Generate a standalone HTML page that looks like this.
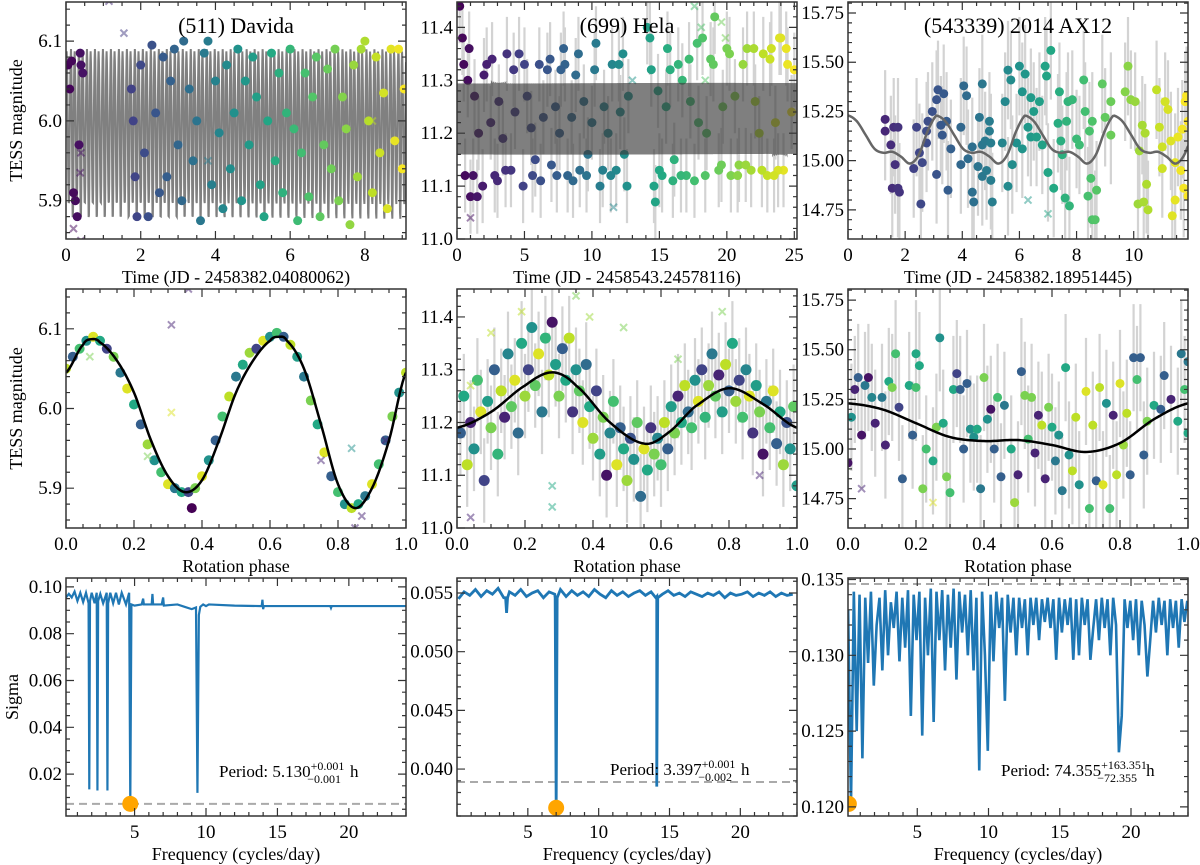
<!DOCTYPE html>
<html><head><meta charset="utf-8"><style>
body{margin:0;background:#fff}
svg{display:block;font-family:"Liberation Serif",serif}
</style></head><body>
<svg id="fig" width="1200" height="865" viewBox="0 0 1200 865" xmlns="http://www.w3.org/2000/svg"></svg>
<script>
// ---------- DATA ----------
const davidaTime=[0.05,0.1,0.15,0.2,0.25,0.3,0.35,0.38,0.4,0.45,1.75,1.8,1.85,1.9,2.0,2.1,2.2,2.3,2.4,2.5,2.6,2.7,2.8,2.9,3.0,3.1,3.15,3.3,3.4,3.5,3.6,3.7,3.8,3.9,4.0,4.1,4.2,4.3,4.4,4.5,4.6,4.7,4.8,4.9,5.0,5.1,5.2,5.3,5.4,5.5,5.6,5.7,5.8,5.9,6.0,6.1,6.2,6.3,6.4,6.5,6.6,6.7,6.8,6.9,7.0,7.1,7.2,7.3,7.4,7.5,7.6,7.7,7.8,7.9,8.0,8.1,8.2,8.3,8.4,8.5,8.6,8.7,8.8,8.9,9.0,9.05];
const davidaMag=[6.07,6.04,6.075,5.91,5.90,5.88,5.97,6.085,6.07,6.06,6.04,6.0,5.93,5.88,6.07,5.96,5.88,6.095,6.01,5.91,6.08,5.93,6.05,6.09,5.97,5.90,6.1,6.04,5.95,6.0,5.875,6.085,6.1,5.92,6.05,5.985,5.89,6.07,5.94,6.01,6.09,5.90,6.05,5.97,6.08,6.03,5.92,5.88,6.0,6.085,5.95,6.06,5.91,6.01,6.09,5.99,5.875,5.96,6.06,5.905,6.03,6.08,5.88,5.97,6.065,5.94,6.09,5.90,6.03,5.99,5.87,6.07,5.93,6.09,6.1,6.0,5.91,6.08,5.96,6.035,5.89,6.09,5.975,6.09,5.94,6.04];
const davidaOutT=[0.2,0.4,0.4,0.38,1.15,1.55,3.8,8.2];
const davidaOutM=[5.865,5.85,5.96,5.935,6.15,6.11,5.95,6.0];
const davidaFitPhase=[0,0.05,0.075,0.1,0.15,0.2,0.25,0.3,0.35,0.4,0.45,0.5,0.55,0.6,0.625,0.65,0.7,0.75,0.8,0.85,0.9,0.95,1.0];
const davidaFitMag=[6.045,6.08,6.087,6.083,6.06,6.02,5.96,5.915,5.895,5.91,5.96,6.02,6.06,6.085,6.09,6.085,6.05,5.98,5.905,5.875,5.9,5.96,6.045];
const davidaPeriodH=5.130;
const davidaPh=[0,0.02,0.04,0.06,0.08,0.1,0.12,0.14,0.16,0.18,0.2,0.22,0.24,0.26,0.28,0.3,0.32,0.34,0.36,0.37,0.38,0.4,0.42,0.44,0.46,0.48,0.5,0.52,0.54,0.56,0.58,0.6,0.62,0.64,0.66,0.68,0.7,0.72,0.74,0.76,0.78,0.8,0.82,0.84,0.86,0.88,0.9,0.92,0.94,0.96,0.98,1.0];
const davidaPhMag=[6.05,6.065,6.075,6.085,6.09,6.085,6.075,6.065,6.045,6.025,6.005,5.98,5.955,5.935,5.92,5.905,5.9,5.895,5.895,5.875,5.9,5.915,5.935,5.96,5.99,6.015,6.04,6.055,6.07,6.075,6.085,6.09,6.095,6.09,6.08,6.065,6.04,6.01,5.98,5.945,5.915,5.895,5.88,5.875,5.88,5.89,5.905,5.93,5.96,5.99,6.02,6.045];
const davidaPhCol=[.9,.3,.7,.5,.95,.6,.2,.8,.4,.95,.6,.3,.85,.5,.7,.95,.4,.6,.2,0,.8,.95,.5,.3,.7,.9,.4,.6,.85,.2,.95,.5,.7,.3,.9,.55,.4,.8,.6,.95,.3,.7,.5,.9,.6,.4,.95,.7,.3,.8,.5,.9];
const davidaPhOutP=[0.31,0.36,0.31,0.07,0.24,0.84,0.75,0.87,0.85,0.94];
const davidaPhOutM=[6.105,6.15,5.995,6.065,5.94,5.95,5.935,5.865,5.85,5.96];
const davidaPhOutC=[.1,.1,.95,.8,.8,.5,.1,.1,.1,.1];

const helaTime=[0.2,0.4,0.6,0.8,1.0,1.3,1.6,1.9,2.2,2.5,2.8,3.1,3.4,3.7,4.0,4.3,4.6,4.9,5.2,5.5,5.8,6.1,6.4,6.7,7.0,7.3,7.6,7.9,8.2,8.5,8.8,9.1,9.4,9.7,10.0,10.3,10.6,10.9,11.2,11.5,11.8,12.1,12.4,12.7,14.3,14.6,14.9,15.2,15.5,15.8,16.1,16.4,16.7,17.0,17.3,17.6,17.9,18.2,18.5,18.8,19.1,19.4,19.7,20.0,20.3,20.6,20.9,21.2,21.5,21.8,22.1,22.4,22.7,23.0,23.3,23.6,23.9,24.2,24.5,24.8,
0.5,0.9,1.2,1.5,2.0,2.6,3.0,3.6,4.2,5.0,5.6,6.2,6.9,7.4,8.0,8.6,9.0,9.6,10.2,10.8,11.4,12.0,12.6,14.1,14.4,14.7,15.0,15.6,16.0,16.6,17.2,17.8,18.4,19.0,19.6,20.2,20.8,21.4,22.0,22.6,23.2,23.8,24.4,25.0,24.0,23.5,12.3,7.7];
const helaMag=[11.44,11.38,11.12,11.3,11.08,11.27,11.2,11.1,11.33,11.22,11.12,11.26,11.19,11.35,11.13,11.24,11.35,11.1,11.27,11.21,11.15,11.33,11.23,11.32,11.14,11.25,11.2,11.36,11.12,11.23,11.31,11.13,11.26,11.16,11.22,11.37,11.1,11.25,11.2,11.33,11.13,11.24,11.16,11.27,11.38,11.1,11.28,11.12,11.25,11.32,11.15,11.33,11.3,11.12,11.26,11.11,11.22,11.38,11.2,11.34,11.42,11.13,11.25,11.36,11.12,11.27,11.14,11.33,11.36,11.13,11.26,11.2,11.35,11.12,11.36,11.22,11.38,11.13,11.33,11.24,
11.33,11.36,11.12,11.08,11.31,11.34,11.11,11.13,11.32,11.33,11.12,11.11,11.34,11.12,11.33,11.11,11.35,11.12,11.32,11.13,11.12,11.33,11.1,11.4,11.32,11.07,11.13,11.36,11.11,11.12,11.34,11.37,11.12,11.33,11.14,11.35,11.12,11.14,11.36,11.13,11.34,11.13,11.36,11.32,11.38,11.12,11.35,11.32];
const helaOutT=[1.0,11.6,17.6,18.1,18.4,19.6,19.9,13.0];
const helaOutM=[11.04,11.06,11.44,11.4,11.3,11.41,11.38,11.3];
const helaFitPhase=[0,0.1,0.2,0.28,0.35,0.45,0.55,0.62,0.7,0.8,0.9,1.0];
const helaFitMag=[11.19,11.22,11.27,11.295,11.27,11.2,11.16,11.18,11.23,11.265,11.235,11.19];
const helaPeriodH=3.397;
const helaPh=[0.01,0.02,0.03,0.04,0.05,0.06,0.07,0.08,0.09,0.1,0.11,0.12,0.13,0.14,0.15,0.16,0.17,0.18,0.19,0.2,0.21,0.22,0.23,0.24,0.25,0.26,0.27,0.28,0.29,0.3,0.31,0.32,0.33,0.34,0.35,0.36,0.37,0.38,0.39,0.4,0.41,0.42,0.43,0.44,0.45,0.46,0.47,0.48,0.49,0.5,0.51,0.52,0.53,0.54,0.55,0.56,0.57,0.58,0.59,0.6,0.61,0.62,0.63,0.64,0.65,0.66,0.67,0.68,0.69,0.7,0.71,0.72,0.73,0.74,0.75,0.76,0.77,0.78,0.79,0.8,0.81,0.82,0.83,0.84,0.85,0.86,0.87,0.88,0.89,0.9,0.91,0.92,0.93,0.94,0.95,0.96,0.97,0.98,0.99,1.0];
const helaPhMag=[11.18,11.25,11.12,11.2,11.15,11.28,11.22,11.09,11.24,11.19,11.3,11.14,11.26,11.21,11.33,11.23,11.28,11.18,11.35,11.25,11.3,11.38,11.27,11.33,11.22,11.36,11.29,11.39,11.31,11.25,11.34,11.28,11.36,11.22,11.3,11.26,11.2,11.31,11.23,11.17,11.26,11.14,11.21,11.1,11.18,11.24,11.12,11.19,11.15,11.09,11.17,11.13,11.2,11.06,11.15,11.11,11.19,11.14,11.17,11.12,11.2,11.15,11.23,11.18,11.25,11.2,11.27,11.22,11.19,11.28,11.24,11.3,11.21,11.27,11.33,11.25,11.29,11.22,11.31,11.26,11.35,11.24,11.28,11.21,11.3,11.25,11.18,11.27,11.22,11.14,11.24,11.19,11.26,11.16,11.22,11.12,11.2,11.15,11.23,11.08];
const helaPhCol=[.3,.6,.9,.1,.5,.7,.95,.2,.55,.8,.3,.65,.9,.1,.45,.75,.95,.35,.6,.85,.2,.5,.75,.95,.4,.65,.9,.05,.55,.8,.3,.6,.9,.15,.5,.75,.95,.35,.6,.85,.2,.55,.8,.05,.45,.7,.95,.3,.6,.85,.25,.5,.75,.35,.95,.6,.15,.8,.45,.7,.9,.3,.55,.8,.1,.6,.9,.35,.7,.5,.95,.2,.65,.85,.4,.75,.1,.55,.9,.3,.6,.85,.2,.7,.45,.95,.15,.55,.8,.05,.4,.7,.95,.3,.6,.85,.25,.5,.75,.55];
const helaPhOutP=[0.04,0.1,0.19,0.35,0.39,0.49,0.65,0.78,0.28,0.28,0.04,0.89];
const helaPhOutM=[11.27,11.37,11.41,11.44,11.4,11.38,11.32,11.41,11.08,11.04,11.02,11.1];
const helaPhOutC=[.9,.9,.9,.8,.85,.8,.8,.8,.6,.6,.1,.1];

const axTime=[1.3,1.3,1.5,1.55,1.6,1.65,1.75,1.8,1.75,2.3,2.4,2.5,2.55,2.6,2.75,2.75,2.8,2.95,3.1,3.1,3.15,3.25,3.3,3.35,3.45,3.5,3.6,3.95,3.95,4.05,4.15,4.2,4.35,4.35,4.4,4.55,4.6,4.7,4.7,4.7,4.8,4.85,4.95,4.95,5.0,5.0,5.05,5.4,5.5,5.6,5.6,5.7,5.75,5.9,6.0,6.1,6.1,6.2,6.3,6.4,6.4,6.5,6.6,6.7,6.8,6.9,6.95,7.0,7.1,7.2,7.35,7.4,7.45,7.5,7.6,7.65,7.7,7.75,7.85,8.0,8.1,8.25,8.3,8.4,8.45,8.5,8.55,8.55,8.65,8.7,8.9,9.0,9.2,9.2,9.7,9.8,9.9,10.05,10.15,10.2,10.3,10.35,10.4,10.45,10.5,10.8,10.9,11.0,11.0,11.1,11.2,11.3,11.35,11.45,11.45,11.55,11.65,11.7,11.75,11.8,11.85,11.9,11.9];
const axMag=[15.21,15.15,15.08,14.86,15.17,14.98,14.86,14.84,15.17,14.96,15.17,15.04,14.78,14.99,15.09,15.15,15.2,15.25,14.93,15.31,15.36,15.18,15.13,15.34,15.2,14.85,15.06,14.98,15.17,15.38,15.33,15.01,15.07,14.84,14.79,14.97,15.22,15.08,15.39,14.92,15.1,14.95,15.2,15.15,15.09,14.9,14.79,15.09,15.3,14.87,15.46,15.41,14.98,15.09,15.48,15.06,15.35,15.44,15.17,15.32,15.12,15.25,15.12,15.3,15.08,15.48,15.43,14.94,15.56,14.86,15.19,15.35,15.1,15.03,14.81,15.2,15.3,14.77,15.31,15.11,15.08,15.41,15.25,14.82,15.15,14.91,15.2,14.7,14.7,14.85,15.39,15.22,15.3,15.13,15.35,15.48,15.31,15.3,14.78,15.05,15.18,14.79,15.14,14.88,14.75,15.36,15.17,15.07,14.96,15.3,15.26,15.1,14.72,14.99,14.8,15.12,14.95,15.16,14.86,15.3,15.33,15.2,14.82];
const axOutT=[6.3,7.0];
const axOutM=[14.8,14.73];
const axFitPhase=[0,0.1,0.2,0.3,0.4,0.5,0.6,0.7,0.8,0.9,1.0];
const axFitMag=[15.23,15.2,15.13,15.06,15.04,15.045,15.02,14.985,15.03,15.15,15.23];
const axPeriodH=74.355;
const axPh=[0.0,0.01,0.02,0.03,0.04,0.05,0.06,0.07,0.08,0.1,0.11,0.12,0.13,0.14,0.15,0.16,0.18,0.19,0.2,0.2,0.21,0.22,0.23,0.25,0.26,0.27,0.28,0.29,0.3,0.31,0.32,0.33,0.34,0.35,0.36,0.37,0.38,0.39,0.4,0.41,0.42,0.43,0.44,0.45,0.46,0.48,0.49,0.5,0.51,0.52,0.53,0.54,0.55,0.56,0.57,0.58,0.59,0.6,0.61,0.62,0.63,0.64,0.65,0.66,0.67,0.68,0.7,0.71,0.72,0.73,0.74,0.75,0.76,0.77,0.78,0.79,0.8,0.81,0.82,0.83,0.84,0.85,0.86,0.87,0.88,0.9,0.92,0.93,0.95,0.97,0.98,0.99,1.0,1.0];
const axPhMag=[14.93,15.16,15.3,15.36,15.07,15.32,15.36,15.26,15.13,15.26,15.02,15.34,15.31,15.48,15.21,14.85,15.32,15.07,15.31,15.48,15.42,14.8,15.0,14.94,15.11,15.56,15.13,14.86,14.78,15.3,15.38,15.3,15.0,15.33,15.1,15.06,15.1,14.8,15.36,15.15,15.2,15.0,15.26,14.86,15.22,15.0,14.73,14.87,15.39,15.27,15.05,15.26,14.98,15.17,15.12,14.85,15.21,15.11,14.94,15.07,14.79,15.41,14.97,14.89,15.16,14.82,15.29,14.7,15.12,14.84,15.31,14.82,15.23,14.7,15.17,14.87,15.33,15.02,15.18,14.87,15.46,15.35,15.46,14.97,15.14,15.22,15.2,15.37,15.25,15.14,15.48,15.3,15.44,15.08];
const axPhCol=[.05,.5,.1,.3,.05,.4,.05,.45,.1,.4,.1,.6,.8,.7,.2,.3,.6,.3,.7,.6,.6,.8,.7,.6,.8,.5,.6,.8,.7,.6,.2,.3,.3,.3,.5,.5,.6,.4,.8,.5,.05,.3,.7,.3,.4,.6,.85,.1,.3,.8,.7,.8,.1,.1,.9,.1,.8,.6,.4,.5,.4,.6,.5,.9,.9,.5,.95,.7,.9,.3,.9,.95,.5,.7,.1,.9,.95,.85,.9,.3,.3,.7,.3,.3,.8,.6,.3,.3,.1,.6,.4,.7,.4,.6];
const axPhOutP=[0.04,0.25];
const axPhOutM=[14.8,14.73];
const axPhOutC=[.1,.95];

const davidaFreq=[0.2,0.4,0.6,0.8,1.0,1.2,1.4,1.6,1.78,1.83,1.88,2.0,2.2,2.35,2.4,2.45,2.6,2.8,3.05,3.1,3.15,3.3,3.5,3.7,3.9,4.1,4.4,4.62,4.7,4.78,5.0,5.5,5.6,5.65,6.2,6.25,6.3,6.9,7.0,7.05,8.0,8.5,9.0,9.3,9.4,9.5,9.6,9.8,10.0,10.2,12.0,13.9,13.95,14.0,14.05,18.7,18.75,18.8,24.0];
const davidaSigma=[0.0955,0.097,0.0955,0.098,0.094,0.0975,0.0935,0.0975,0.093,0.0135,0.094,0.0975,0.093,0.0975,0.013,0.094,0.097,0.093,0.0975,0.013,0.093,0.0975,0.093,0.0975,0.0925,0.0975,0.0925,0.0975,0.0073,0.0925,0.092,0.0925,0.095,0.0925,0.0925,0.097,0.0925,0.0925,0.0955,0.092,0.0925,0.0915,0.0905,0.0912,0.012,0.088,0.0915,0.0925,0.0918,0.0925,0.092,0.0918,0.0945,0.0905,0.0918,0.0918,0.091,0.0918,0.0918];
const davidaBest=[4.7,0.0073];
const davidaThresh=0.0073;

const helaFreqStart=0.1, helaFreqStep=0.4;
const helaSigmaBase=[.0545,.0551,.0548,.0553,.0547,.0552,.0549,.0554,.0546,.0551,.0548,.0553,.0547,.0550,.0552,.0546,.0551,.0549,.0553,.0547,.0552,.0548,.0551,.0547,.0553,.0549,.0546,.0552,.0548,.0551,.0547,.0550,.0552,.0548,.0551,.0547,.0549,.0552,.0548,.0550,.0547,.0551,.0549,.0547,.0550,.0548,.0551,.0546,.0550,.0548,.0549,.0551,.0547,.0550,.0548,.0551,.0547,.0550,.0548,.0549];
const helaDipFreq=[3.5,7.0,14.1];
const helaDipSigma=[0.0533,0.0367,0.0385];
const helaBest=[7.0,0.0367];
const helaThresh=0.0389;

const axFreqStart=0.15, axFreqStep=0.2;
const axSigma=[0.1330,0.1202,0.1342,0.1250,0.1340,0.1232,0.1338,0.1295,0.1342,0.1280,
0.1320,0.1338,0.1290,0.1343,0.1300,0.1335,0.1318,0.1342,0.1296,0.1338,
0.1305,0.1343,0.1260,0.1340,0.1310,0.1342,0.1247,0.1338,0.1300,0.1344,
0.1256,0.1342,0.1310,0.1343,0.1290,0.1340,0.1305,0.1344,0.1284,0.1342,
0.1315,0.1340,0.1300,0.1343,0.1290,0.1338,0.1224,0.1342,0.1300,0.1237,
0.1340,0.1296,0.1342,0.1318,0.1338,0.1270,0.1340,0.1315,0.1338,0.1300,
0.1338,0.1318,0.1337,0.1300,0.1338,0.1320,0.1338,0.1310,0.1337,0.1322,
0.1338,0.1318,0.1337,0.1297,0.1338,0.1315,0.1337,0.1320,0.1338,0.1297,
0.1337,0.1300,0.1338,0.1320,0.1337,0.1297,0.1318,0.1337,0.1310,0.1338,
0.1318,0.1337,0.1300,0.1338,0.1320,0.1236,0.1260,0.1337,0.1318,0.1336,
0.1310,0.1337,0.1300,0.1336,0.1320,0.1286,0.1310,0.1336,0.1315,0.1338,
0.1320,0.1336,0.1300,0.1337,0.1318,0.1336,0.1305,0.1337,0.1322,0.1336];
const axBest=[0.2,0.1202];
const axThresh=0.1347;

// ---------- RENDER ----------
const NS='http://www.w3.org/2000/svg';
const svg=document.getElementById('fig');
function el(tag,attrs,parent){const e=document.createElementNS(NS,tag);for(const k in attrs)e.setAttribute(k,attrs[k]);(parent||svg).appendChild(e);return e;}
const VIR=['#440154','#482475','#414487','#355f8d','#2a788e','#21918c','#22a884','#44bf70','#7ad151','#bddf26','#fde725'];
function vir(f){f=Math.max(0,Math.min(1,f));const i=Math.min(9,Math.floor(f*10)),t=f*10-i;
 const a=VIR[i],b=VIR[i+1];const c=k=>Math.round(parseInt(a.substr(k,2),16)*(1-t)+parseInt(b.substr(k,2),16)*t);
 return 'rgb('+c(1)+','+c(3)+','+c(5)+')';}
function interp(xs,ys,x){
 let i=0;while(i<xs.length-2&&x>xs[i+1])i++;
 const x0=xs[i],x1=xs[i+1],t=(x-x0)/(x1-x0);
 const p0=ys[Math.max(0,i-1)],p1=ys[i],p2=ys[i+1],p3=ys[Math.min(ys.length-1,i+2)];
 return 0.5*((2*p1)+(-p0+p2)*t+(2*p0-5*p1+4*p2-p3)*t*t+(-p0+3*p1-3*p2+p3)*t*t*t);}
let clipN=0;
function panel(name,x0,x1,y0,y1,xd,yd){
 const g=el('g',{});
 const id='c'+(clipN++);const cp=el('clipPath',{id:id},g);el('rect',{x:x0,y:y0,width:x1-x0,height:y1-y0},cp);
 const d=el('g',{'clip-path':'url(#'+id+')'},g);
 return {g,d,x0,x1,y0,y1,sx:v=>x0+(v-xd[0])/(xd[1]-xd[0])*(x1-x0),sy:v=>y1-(v-yd[0])/(yd[1]-yd[0])*(y1-y0),xd,yd};}
function axes(P,xMaj,xLab,xMinStep,yMaj,yLab,yMinStep,xTitle,yTitle){
 const g=el('g',{},P.g);
 let p='';
 const xs=Math.ceil(P.xd[0]/xMinStep-1e-6);
 for(let k=xs;k*xMinStep<=P.xd[1]+1e-9;k++){const x=P.sx(k*xMinStep);p+=`M${x},${P.y1}v-4M${x},${P.y0}v4`;}
 const ys=Math.ceil(P.yd[0]/yMinStep-1e-6);
 for(let k=ys;k*yMinStep<=P.yd[1]+1e-9;k++){const y=P.sy(k*yMinStep);p+=`M${P.x0},${y}h4M${P.x1},${y}h-4`;}
 xMaj.forEach(v=>{const x=P.sx(v);p+=`M${x},${P.y1}v-8M${x},${P.y0}v8`;});
 yMaj.forEach(v=>{const y=P.sy(v);p+=`M${P.x0},${y}h8M${P.x1},${y}h-8`;});
 el('path',{d:p,stroke:'#333',fill:'none','stroke-width':1.2},g);
 el('rect',{x:P.x0,y:P.y0,width:P.x1-P.x0,height:P.y1-P.y0,fill:'none',stroke:'#333','stroke-width':1.5},g);
 xMaj.forEach((v,i)=>{const t=el('text',{x:P.sx(v),y:P.y1+22,'text-anchor':'middle','font-size':19},g);t.textContent=xLab[i];
  });
 yMaj.forEach((v,i)=>{const t=el('text',{x:P.x0-4,y:P.sy(v)+6,'text-anchor':'end','font-size':19},g);t.textContent=yLab[i];
  });
 if(xTitle){const t=el('text',{x:(P.x0+P.x1)/2,y:P.y1+44,'text-anchor':'middle','font-size':18},g);t.textContent=xTitle;
  }
 if(yTitle){const cy=(P.y0+P.y1)/2,cx=yTitle==='Sigma'?18:22;const t=el('text',{x:cx,y:cy,'text-anchor':'middle','font-size':18,transform:`rotate(-90 ${cx} ${cy})`},g);t.textContent=yTitle;
  }}
function dot(P,x,y,c,r){const e=el('circle',{cx:P.sx(x),cy:P.sy(y),r:r||4.5,fill:c},P.d);
 }
function cross(P,x,y,c){const X=P.sx(x),Y=P.sy(y),s=3.5;const e=el('path',{d:`M${X-s},${Y-s}L${X+s},${Y+s}M${X-s},${Y+s}L${X+s},${Y-s}`,stroke:c,'stroke-width':2,opacity:0.5},P.d);
 }
function errbars(P,xs,ys,err){let p='';xs.forEach((x,i)=>{p+=`M${P.sx(x)},${P.sy(ys[i]-err)}V${P.sy(ys[i]+err)}`;});
 const e=el('path',{d:p,stroke:'#d3d3d3','stroke-width':2.2,fill:'none'},P.d);}
function line(P,pts,attrs,name){const e=el('path',Object.assign({d:'M'+pts.map(q=>P.sx(q[0]).toFixed(2)+','+P.sy(q[1]).toFixed(2)).join('L'),fill:'none'},attrs),P.d);
 }
function title(P,txt){const t=el('text',{x:(P.x0+P.x1)/2,y:P.y0+31,'text-anchor':'middle','font-size':22},P.g);t.textContent=txt;
 }
function periodText(P,x,y,val,up,dn){const t=el('text',{x:x,y:y,'font-size':17},P.g);
 
 const a=el('tspan',{},t);a.textContent='Period: '+val;
 const b=el('tspan',{dy:-7,'font-size':12},t);b.textContent=up;
 const w=up.length*6.2;
 const c=el('tspan',{dx:-w,dy:13,'font-size':12},t);c.textContent=dn;
 const d=el('tspan',{dy:-6,dx:9},t);d.textContent='h';}
function timeCurve(ph,mg,perH,tmax,per){const P_d=perH/24;const pts=[];const n=Math.ceil(tmax/P_d*per);
 for(let i=0;i<=n;i++){const t=i*tmax/n;let f=(t/P_d)%1;pts.push([t,interp(ph,mg,f)]);}return pts;}
function phaseCurve(ph,mg){const pts=[];for(let i=0;i<=200;i++){const f=i/200;pts.push([f,interp(ph,mg,f)]);}return pts;}

const C=[[66,406],[457,797],[848,1188]];
const R=[[2,239],[289,528],[578,816]];
const phTicks=[0,0.2,0.4,0.6,0.8,1.0],phLab=['0.0','0.2','0.4','0.6','0.8','1.0'];

// Row 1
let P=panel('davida-lightcurve',C[0][0],C[0][1],R[0][0],R[0][1],[0,9.1],[5.852,6.149]);
line(P,timeCurve(davidaFitPhase,davidaFitMag,davidaPeriodH,9.1,24),{stroke:'#808080','stroke-width':2},'model-curve');
davidaTime.forEach((t,i)=>dot(P,t,davidaMag[i],vir(t/9.1)));
davidaOutT.forEach((t,i)=>cross(P,t,davidaOutM[i],vir(t/9.1)));
axes(P,[0,2,4,6,8],['0','2','4','6','8'],0.5,[5.9,6.0,6.1],['5.9','6.0','6.1'],0.02,'Time (JD - 2458382.04080062)','TESS magnitude');
title(P,'(511) Davida');

P=panel('hela-lightcurve',C[1][0],C[1][1],R[0][0],R[0][1],[0,25.2],[11.0,11.448]);
errbars(P,helaTime,helaMag,0.07);
helaTime.forEach((t,i)=>dot(P,t,helaMag[i],vir(t/25.2)));
helaOutT.forEach((t,i)=>cross(P,t,helaOutM[i],vir(t/25.2)));
line(P,timeCurve(helaFitPhase,helaFitMag,helaPeriodH,25.2,30),{stroke:'#3a3a3a','stroke-width':2,opacity:0.65},'model-curve');
axes(P,[0,5,10,15,20,25],['0','5','10','15','20','25'],1,[11.0,11.1,11.2,11.3,11.4],['11.0','11.1','11.2','11.3','11.4'],0.02,'Time (JD - 2458543.24578116)',null);
title(P,'(699) Hela');

P=panel('ax12-lightcurve',C[2][0],C[2][1],R[0][0],R[0][1],[0,11.9],[14.602,15.806]);
errbars(P,axTime,axMag,0.25);
axTime.forEach((t,i)=>dot(P,t,axMag[i],vir(t/11.9)));
axOutT.forEach((t,i)=>cross(P,t,axOutM[i],vir(t/11.9)));
line(P,timeCurve(axFitPhase,axFitMag,axPeriodH,11.9,60),{stroke:'#666','stroke-width':2.5},'model-curve');
axes(P,[0,2,4,6,8,10],['0','2','4','6','8','10'],0.5,[14.75,15.0,15.25,15.5,15.75],['14.75','15.00','15.25','15.50','15.75'],0.05,'Time (JD - 2458382.18951445)',null);
title(P,'(543339) 2014 AX12');

// Row 2
P=panel('davida-phase',C[0][0],C[0][1],R[1][0],R[1][1],[0,1],[5.85,6.15]);
davidaPh.forEach((p,i)=>dot(P,p,davidaPhMag[i],vir(davidaPhCol[i]),5));
davidaPhOutP.forEach((p,i)=>cross(P,p,davidaPhOutM[i],vir(davidaPhOutC[i])));
line(P,phaseCurve(davidaFitPhase,davidaFitMag),{stroke:'#000','stroke-width':2.5},'fit-curve');
axes(P,phTicks,phLab,0.05,[5.9,6.0,6.1],['5.9','6.0','6.1'],0.02,'Rotation phase','TESS magnitude');

P=panel('hela-phase',C[1][0],C[1][1],R[1][0],R[1][1],[0,1],[11.0,11.453]);
errbars(P,helaPh,helaPhMag,0.08);
helaPh.forEach((p,i)=>dot(P,p,helaPhMag[i],vir(helaPhCol[i]),5.5));
helaPhOutP.forEach((p,i)=>cross(P,p,helaPhOutM[i],vir(helaPhOutC[i])));
line(P,phaseCurve(helaFitPhase,helaFitMag),{stroke:'#000','stroke-width':2.5},'fit-curve');
axes(P,phTicks,phLab,0.05,[11.0,11.1,11.2,11.3,11.4],['11.0','11.1','11.2','11.3','11.4'],0.02,'Rotation phase',null);

P=panel('ax12-phase',C[2][0],C[2][1],R[1][0],R[1][1],[0,1],[14.602,15.806]);
errbars(P,axPh,axPhMag,0.27);
axPh.forEach((p,i)=>dot(P,p,axPhMag[i],vir(axPhCol[i])));
axPhOutP.forEach((p,i)=>cross(P,p,axPhOutM[i],vir(axPhOutC[i])));
line(P,phaseCurve(axFitPhase,axFitMag),{stroke:'#000','stroke-width':2.5},'fit-curve');
axes(P,phTicks,phLab,0.05,[14.75,15.0,15.25,15.5,15.75],['14.75','15.00','15.25','15.50','15.75'],0.05,'Rotation phase',null);

// Row 3
function thresh(P,v){line(P,[[P.xd[0],v],[P.xd[1],v]],{stroke:'#aaa','stroke-width':2,'stroke-dasharray':'8,5'},'threshold-line');}
function best(P,b){const e=el('circle',{cx:P.sx(b[0]),cy:P.sy(b[1]),r:8,fill:'orange'},P.d);}
P=panel('davida-periodogram',C[0][0],C[0][1],R[2][0],R[2][1],[0.2,24],[0.0021,0.1038]);
thresh(P,davidaThresh);
line(P,davidaFreq.map((f,i)=>[f,davidaSigma[i]]),{stroke:'#1f77b4','stroke-width':2.2},'periodogram-line');
best(P,davidaBest);
axes(P,[5,10,15,20],['5','10','15','20'],1,[0.02,0.04,0.06,0.08,0.10],['0.02','0.04','0.06','0.08','0.10'],0.005,'Frequency (cycles/day)','Sigma');
periodText(P,219,777,'5.130','+0.001','−0.001');

P=panel('hela-periodogram',C[1][0],C[1][1],R[2][0],R[2][1],[0,24],[0.0360,0.05628]);
thresh(P,helaThresh);
(function(){let pts=helaSigmaBase.map((s,i)=>[helaFreqStart+i*helaFreqStep,s]);
 helaDipFreq.forEach((f,i)=>{pts.push([f-0.07,0.0546],[f,helaDipSigma[i]],[f+0.07,0.0546]);});
 pts.sort((a,b)=>a[0]-b[0]);line(P,pts,{stroke:'#1f77b4','stroke-width':2.8},'periodogram-line');})();
best(P,helaBest);
axes(P,[5,10,15,20],['5','10','15','20'],1,[0.040,0.045,0.050,0.055],['0.040','0.045','0.050','0.055'],0.001,'Frequency (cycles/day)',null);
periodText(P,610,775,'3.397','+0.001','−0.002');

P=panel('ax12-periodogram',C[2][0],C[2][1],R[2][0],R[2][1],[0.14,24],[0.1194,0.1351]);
thresh(P,axThresh);
line(P,axSigma.map((s,i)=>[axFreqStart+i*axFreqStep,s]),{stroke:'#1f77b4','stroke-width':2.6},'periodogram-line');
best(P,axBest);
axes(P,[5,10,15,20],['5','10','15','20'],1,[0.120,0.125,0.130,0.135],['0.120','0.125','0.130','0.135'],0.001,'Frequency (cycles/day)',null);
periodText(P,1001,776,'74.355','+163.351','−72.355');
</script>
</body></html>
